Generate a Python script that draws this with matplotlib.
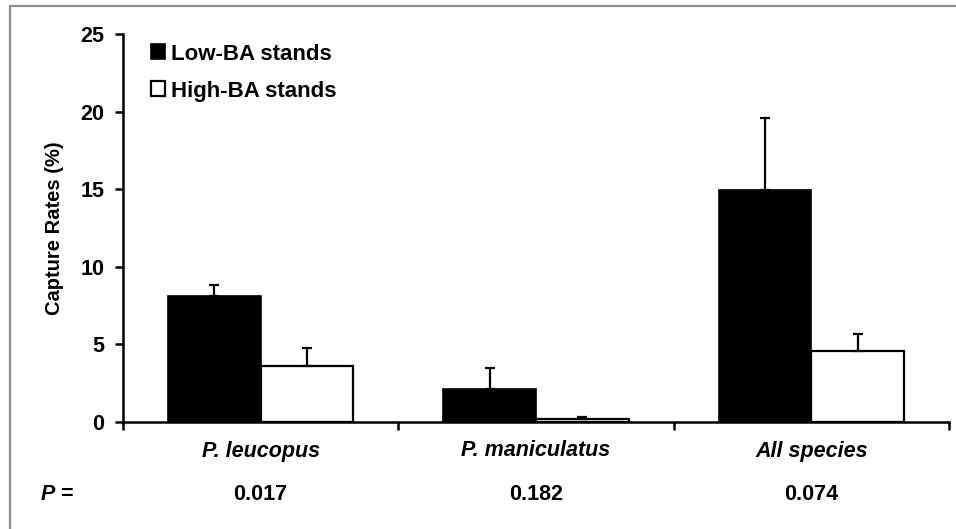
import matplotlib
matplotlib.use("Agg")
import matplotlib.pyplot as plt
import matplotlib.transforms as mtransforms
from matplotlib.patches import Rectangle
import numpy as np

plt.rcParams['font.family'] = ['Liberation Sans', 'DejaVu Sans']

categories = ["P. leucopus", "P. maniculatus", "All species"]
low_ba = [8.1, 2.15, 14.95]
low_ba_err = [0.75, 1.3, 4.65]
high_ba = [3.6, 0.22, 4.6]
high_ba_err = [1.2, 0.1, 1.1]
p_values = ["0.017", "0.182", "0.074"]
series_labels = ["Low-BA stands", "High-BA stands"]
yticks = [0, 5, 10, 15, 20, 25]

W, H = 956, 529
fig = plt.figure(figsize=(W / 100, H / 100), dpi=100)
ax = fig.add_axes([123 / W, 1 - 422 / H, (949 - 123) / W, (422 - 34) / H])

x = np.arange(len(categories))
bw = 0.337
err_kw = dict(ecolor='black', elinewidth=1.6, capsize=3.6, capthick=1.6)
ax.bar(x - bw / 2, low_ba, bw, color='black', edgecolor='black', linewidth=1.2,
       yerr=[np.zeros(3), low_ba_err], error_kw=err_kw, label=series_labels[0], zorder=2)
ax.bar(x + bw / 2, high_ba, bw, color='white', edgecolor='black', linewidth=1.6,
       yerr=[np.zeros(3), high_ba_err], error_kw=err_kw, label=series_labels[1], zorder=2)

ax.set_xlim(-0.5, len(categories) - 0.5)
ax.set_ylim(0, 25)
ax.set_yticks(yticks)
ax.set_yticklabels([str(t) for t in yticks], fontsize=15.5, fontweight='bold')
ax.set_xticks(np.arange(len(categories) + 1) - 0.5)
ax.set_xticklabels([])
for s in ['top', 'right']:
    ax.spines[s].set_visible(False)
for s in ['left', 'bottom']:
    ax.spines[s].set_linewidth(1.8)
ax.tick_params(axis='both', direction='out', length=5.5, width=1.8, pad=8)

ax.set_ylabel("Capture Rates (%)", fontsize=14.5, fontweight='bold')
ax.yaxis.set_label_coords((64 - 123) / (949 - 123), 0.5)

trans = mtransforms.blended_transform_factory(ax.transData, fig.transFigure)
for xi, cat, pv in zip(x, categories, p_values):
    fig.text(xi, 1 - 451 / H, cat, transform=trans, ha='center', va='center',
             fontsize=15.5, fontweight='bold', fontstyle='italic')
    fig.text(xi, 1 - 495 / H, pv, transform=trans, ha='center', va='center',
             fontsize=15.5, fontweight='bold')
fig.text(57 / W, 1 - 495 / H, "P =", ha='center', va='center',
         fontsize=15.5, fontweight='bold', fontstyle='italic')

leg = ax.legend(loc='upper left', bbox_to_anchor=(21 / (949 - 123), 1 - 3 / (422 - 34)),
                frameon=False, fontsize=16, handlelength=0.65, handleheight=0.65,
                handletextpad=0.25, labelspacing=0.72, borderaxespad=0, borderpad=0.3)
for t in leg.get_texts():
    t.set_fontweight('bold')

# outer gray frame
fig.patches.append(Rectangle((10 / W, -0.05), 1.1, 1 - 6 / H + 0.05, transform=fig.transFigure,
                             fill=False, edgecolor='#8c8c8c', linewidth=1.6, zorder=0))

fig.savefig("out.png", dpi=100)
